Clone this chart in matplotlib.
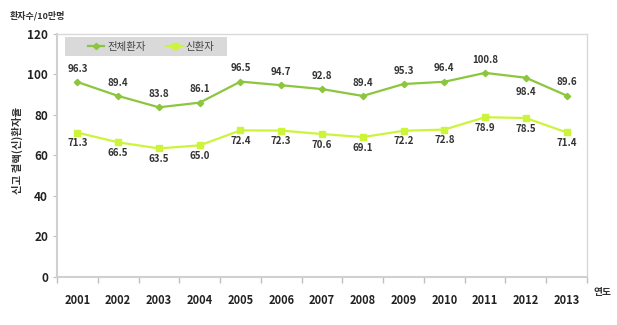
import matplotlib.pyplot as plt
from matplotlib.patches import Rectangle
from matplotlib.ticker import MultipleLocator, FixedLocator

plt.rcParams['font.family'] = ['Noto Sans CJK KR', 'DejaVu Sans']

years = ["2001", "2002", "2003", "2004", "2005", "2006", "2007",
         "2008", "2009", "2010", "2011", "2012", "2013"]
total = [96.3, 89.4, 83.8, 86.1, 96.5, 94.7, 92.8, 89.4, 95.3, 96.4, 100.8, 98.4, 89.6]
new = [71.3, 66.5, 63.5, 65.0, 72.4, 72.3, 70.6, 69.1, 72.2, 72.8, 78.9, 78.5, 71.4]
# label placement for total series: 1 above, -1 below
total_pos = [1, 1, 1, 1, 1, 1, 1, 1, 1, 1, 1, -1, 1]

c_total = "#8cc63f"
c_new = "#ccf53a"

fig = plt.figure(figsize=(6.17, 3.25), dpi=100)
ax = fig.add_axes([0.0924, 0.1477, 0.859, 0.7477])

x = list(range(len(years)))
ax.plot(x, total, color=c_total, lw=1.6, marker="D", ms=3.2, label="전체환자")
ax.plot(x, new, color=c_new, lw=1.6, marker="s", ms=4, label="신환자")

for i, v in enumerate(total):
    off = 6 if total_pos[i] > 0 else -7
    ax.annotate(f"{v:.1f}", (i, v), xytext=(0, off), textcoords="offset points",
                ha="center", va="bottom" if off > 0 else "top",
                fontsize=7, fontweight="bold", color="#333333")
for i, v in enumerate(new):
    ax.annotate(f"{v:.1f}", (i, v), xytext=(0, -4), textcoords="offset points",
                ha="center", va="top", fontsize=7, fontweight="bold", color="#333333")

ax.set_xlim(-0.5, len(years) - 0.5)
ax.set_ylim(0, 120)
ax.yaxis.set_major_locator(MultipleLocator(20))
ax.set_xticks(x)
ax.set_xticklabels(years, fontsize=8, fontweight="bold", color="#222222")
ax.xaxis.set_minor_locator(FixedLocator([i - 0.5 for i in range(len(years) + 1)]))
ax.tick_params(axis="x", which="major", length=0, pad=12)
ax.tick_params(axis="x", which="minor", length=4, color="#bfbfbf", width=1)
ax.tick_params(axis="y", length=3, color="#bfbfbf", labelsize=8.5, labelcolor="#222222")
for lab in ax.get_yticklabels():
    lab.set_fontweight("bold")

for s in ["top", "right"]:
    ax.spines[s].set_color("#d9d9d9")
    ax.spines[s].set_linewidth(1)
for s in ["left", "bottom"]:
    ax.spines[s].set_color("#d0d0d0")
    ax.spines[s].set_linewidth(1.5)

# grey legend band
ax.add_patch(Rectangle((0.0151, 0.909), 0.3057, 0.078, transform=ax.transAxes,
                       facecolor="#d9d9d9", edgecolor="none", zorder=1))
leg = ax.legend(loc="center left", bbox_to_anchor=(0.058, 0.9486), ncol=2,
                fontsize=7.5, frameon=False, borderaxespad=0, borderpad=0,
                handlelength=1.6, columnspacing=2.0, handletextpad=0.25)
for t in leg.get_texts():
    t.set_color("#444444")

fig.text(0.029, 0.537, "신고 결핵(신)환자율", rotation=90, ha="center", va="center",
         fontsize=7.5, fontweight="bold", color="#333333")
fig.text(0.016, 0.953, "환자수/10만명", ha="left", va="center",
         fontsize=6.5, fontweight="bold", color="#333333")
fig.text(0.962, 0.102, "연도", ha="left", va="center",
         fontsize=7, fontweight="bold", color="#333333")

fig.savefig("out.png", dpi=100)
